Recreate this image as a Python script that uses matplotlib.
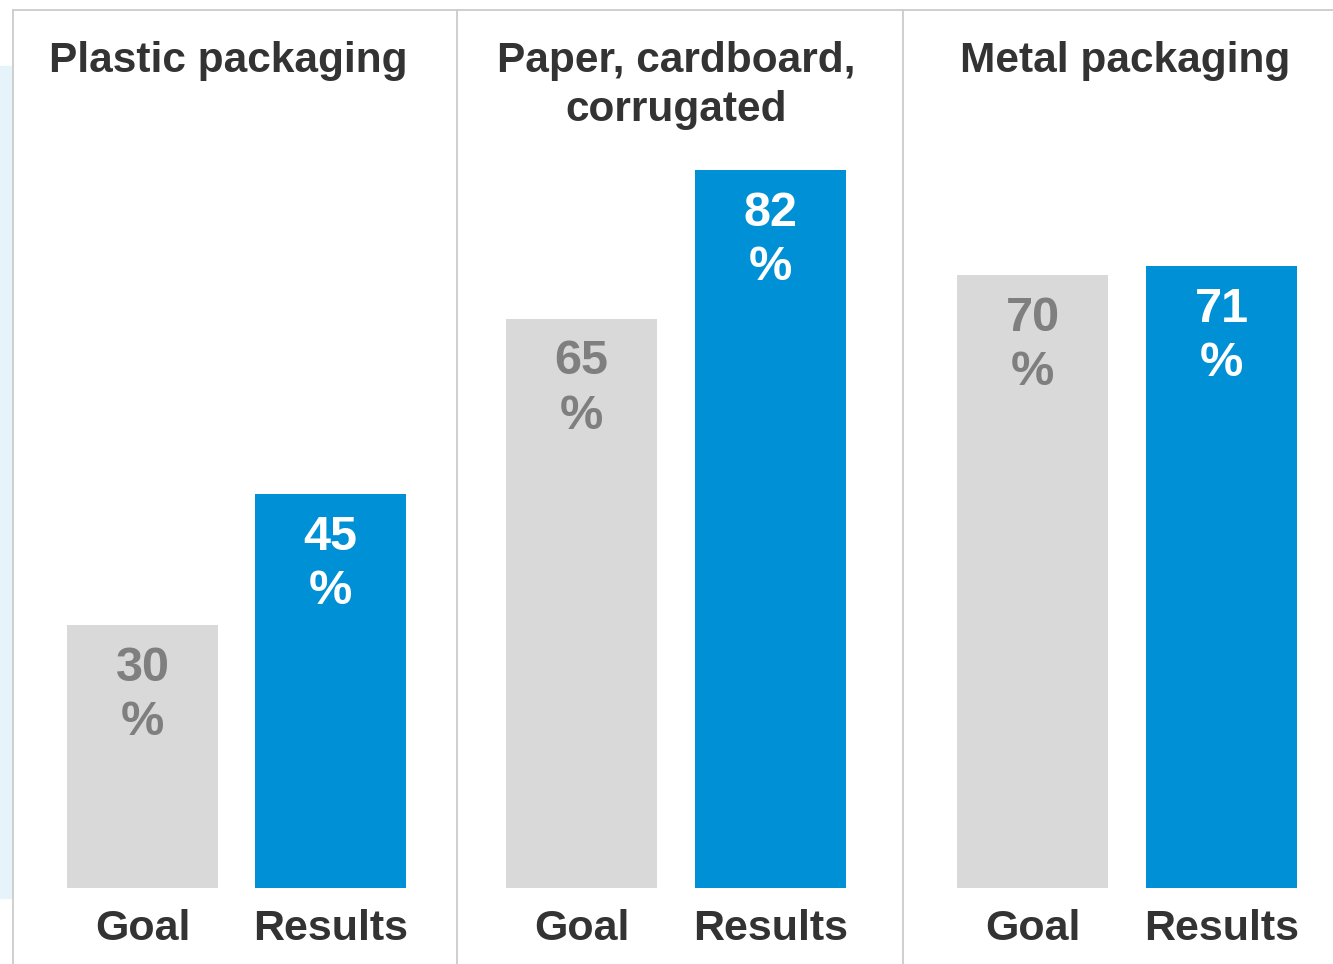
import matplotlib
matplotlib.use("Agg")
import matplotlib.pyplot as plt
from matplotlib.patches import Rectangle
from matplotlib.lines import Line2D

plt.rcParams['font.family'] = ['Liberation Sans', 'DejaVu Sans']

panels = ["Plastic packaging", "Paper, cardboard,\ncorrugated", "Metal packaging"]
categories = ["Goal", "Results"]
goal = [30, 65, 70]
results = [45, 82, 71]

W, H = 1333, 964
fig = plt.figure(figsize=(W / 100, H / 100), dpi=100)

GRAY = "#d9d9d9"
BLUE = "#0090d6"
LINE = "#cccccc"
TITLE = "#333333"

fig.patches.append(Rectangle((0, (H - 898) / H), 12 / W, (898 - 66) / H,
                             transform=fig.transFigure, color="#e6f3fb", zorder=0))
def fline(x0, y0, x1, y1):
    fig.lines.append(Line2D([x0 / W, x1 / W], [1 - y0 / H, 1 - y1 / H],
                            transform=fig.transFigure, color=LINE, lw=1.3))
fline(13, 10, W, 10)
fline(13, 10, 13, H)
fline(457, 10, 457, H)
fline(903, 10, 903, H)

centers = [(142.5, 330.5), (581.5, 770.5), (1032.5, 1221.5)]
title_x = [228, 676, 1125]
base_px = 888
full_px = 876  # pixels for 100 %

for i, (title, g, r) in enumerate(zip(panels, goal, results)):
    c0, c1 = centers[i]
    step = c1 - c0
    left = c0 - step / 2
    ax = fig.add_axes([left / W, (H - base_px) / H, 2 * step / W, full_px / H])
    ax.set_xlim(-0.5, 1.5)
    ax.set_ylim(0, 100)
    width = 151 / step
    vals = [g, r]
    cols = [GRAY, BLUE]
    tcols = ["#7f7f7f", "white"]
    ax.bar([0, 1], vals, width=width, color=cols, zorder=2)
    for x, v, tc in zip([0, 1], vals, tcols):
        ax.annotate(f"{v}\n%", (x, v), xytext=(0, -15), textcoords="offset points",
                    ha="center", va="top", fontsize=35, fontweight="bold",
                    color=tc, linespacing=1.26)
    ax.set_xticks([0, 1])
    ax.set_xticklabels(categories, fontsize=31, fontweight="bold", color=TITLE)
    ax.tick_params(axis="x", length=0, pad=15)
    ax.set_yticks([])
    for s in ax.spines.values():
        s.set_visible(False)
    ax.patch.set_alpha(0)
    fig.text(title_x[i] / W, 1 - 41 / H, title, ha="center", va="top",
             fontsize=30.5, fontweight="bold", color=TITLE, linespacing=1.3)

fig.savefig("out.png", dpi=100, facecolor="white")
